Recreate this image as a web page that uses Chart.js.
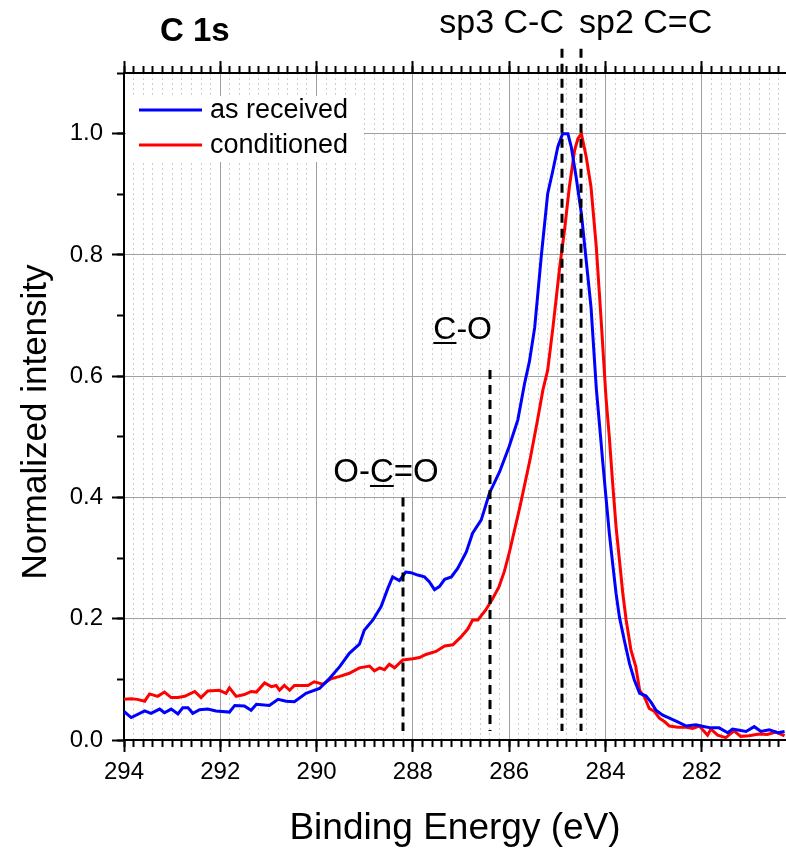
<!DOCTYPE html>
<html>
<head>
<meta charset="utf-8">
<title>C 1s</title>
<script src="https://cdn.jsdelivr.net/npm/chart.js@4.4.1/dist/chart.umd.min.js"></script>
<style>
  body { margin: 0; background: #fff; }
  #wrap { width: 786px; height: 849px; }
</style>
</head>
<body>
<div id="wrap"><canvas id="xpsChart"></canvas></div>
<script>
// binding energy (eV) / normalized intensity
const energyReceived = [294.0, 293.85, 293.57, 293.44, 293.26, 293.16, 293.02, 292.88, 292.78, 292.67,
  292.57, 292.43, 292.26, 292.09, 291.81, 291.70, 291.50, 291.36, 291.25, 290.98,
  290.80, 290.63, 290.46, 290.22, 289.94, 289.75, 289.52, 289.32, 289.11, 289.01,
  288.83, 288.66, 288.52, 288.42, 288.28, 288.15, 288.04, 287.90, 287.76, 287.66,
  287.55, 287.45, 287.34, 287.20, 287.07, 286.89, 286.76, 286.58, 286.41, 286.20,
  286.00, 285.82, 285.68, 285.58, 285.47, 285.33, 285.20, 285.09, 284.99, 284.89,
  284.78, 284.71, 284.61, 284.50, 284.40, 284.30, 284.19, 284.12, 284.06, 283.99,
  283.92, 283.85, 283.78, 283.71, 283.61, 283.50, 283.40, 283.29, 283.16, 283.05,
  282.95, 282.81, 282.67, 282.50, 282.32, 282.12, 281.94, 281.81, 281.64, 281.46,
  281.36, 281.22, 281.08, 280.91, 280.77, 280.60, 280.42, 280.28];
const asReceived = [0.047, 0.037, 0.048, 0.044, 0.051, 0.045, 0.051, 0.043, 0.053, 0.053,
  0.044, 0.050, 0.051, 0.048, 0.046, 0.057, 0.056, 0.049, 0.059, 0.057,
  0.067, 0.064, 0.063, 0.077, 0.085, 0.100, 0.121, 0.143, 0.158, 0.181,
  0.198, 0.220, 0.250, 0.269, 0.263, 0.277, 0.276, 0.272, 0.269, 0.261,
  0.248, 0.253, 0.265, 0.269, 0.283, 0.310, 0.341, 0.363, 0.407, 0.442,
  0.484, 0.528, 0.588, 0.624, 0.680, 0.800, 0.901, 0.940, 0.978, 1.000,
  1.000, 0.978, 0.929, 0.868, 0.791, 0.714, 0.580, 0.517, 0.462, 0.401,
  0.341, 0.291, 0.242, 0.203, 0.165, 0.126, 0.099, 0.077, 0.073, 0.062,
  0.049, 0.041, 0.036, 0.030, 0.023, 0.025, 0.022, 0.020, 0.020, 0.012,
  0.018, 0.016, 0.014, 0.022, 0.014, 0.017, 0.012, 0.014];

const energyConditioned = [294.0, 293.85, 293.72, 293.57, 293.47, 293.30, 293.16, 293.02, 292.88, 292.74,
  292.53, 292.40, 292.26, 292.02, 291.88, 291.81, 291.67, 291.50, 291.36, 291.25,
  291.08, 290.94, 290.84, 290.77, 290.67, 290.56, 290.46, 290.18, 290.05, 289.87,
  289.70, 289.52, 289.32, 289.11, 288.90, 288.80, 288.69, 288.59, 288.49, 288.38,
  288.21, 288.00, 287.86, 287.73, 287.52, 287.34, 287.17, 287.00, 286.86, 286.76,
  286.65, 286.49, 286.35, 286.21, 286.10, 286.00, 285.77, 285.56, 285.41, 285.30,
  285.20, 285.09, 284.95, 284.85, 284.75, 284.64, 284.57, 284.50, 284.40, 284.30,
  284.19, 284.09, 283.99, 283.92, 283.85, 283.78, 283.71, 283.64, 283.57, 283.47,
  283.37, 283.29, 283.19, 283.09, 282.98, 282.88, 282.77, 282.67, 282.50, 282.32,
  282.19, 282.05, 281.88, 281.81, 281.67, 281.50, 281.33, 281.19, 281.02, 280.81,
  280.64, 280.46, 280.28];
const conditioned = [0.067, 0.068, 0.067, 0.064, 0.076, 0.072, 0.079, 0.070, 0.070, 0.072,
  0.080, 0.070, 0.081, 0.082, 0.077, 0.086, 0.072, 0.075, 0.080, 0.079,
  0.094, 0.088, 0.090, 0.082, 0.090, 0.082, 0.090, 0.090, 0.096, 0.092,
  0.101, 0.105, 0.110, 0.119, 0.122, 0.114, 0.119, 0.116, 0.125, 0.119,
  0.132, 0.134, 0.136, 0.141, 0.146, 0.155, 0.157, 0.170, 0.183, 0.198,
  0.198, 0.214, 0.232, 0.253, 0.278, 0.308, 0.387, 0.465, 0.528, 0.577,
  0.610, 0.681, 0.780, 0.841, 0.912, 0.973, 0.992, 1.000, 0.962, 0.912,
  0.813, 0.693, 0.566, 0.500, 0.423, 0.352, 0.297, 0.242, 0.198, 0.148,
  0.121, 0.082, 0.071, 0.052, 0.047, 0.036, 0.030, 0.023, 0.021, 0.021,
  0.019, 0.023, 0.008, 0.018, 0.008, 0.004, 0.015, 0.006, 0.007, 0.010,
  0.009, 0.013, 0.007];

// component markers: name, energy, how high the dashed line goes, underlined char
const peakNames = ['O-C=O', 'C-O', 'sp3 C-C', 'sp2 C=C'];
const peakEnergy = [288.2, 286.4, 284.9, 284.5];
const peakTop = [0.4, 0.61, 1.14, 1.14];
const peakUnderline = [2, 0, -1, -1];

const xTicks = [294, 292, 290, 288, 286, 284, 282];
const yTicks = [0, 0.2, 0.4, 0.6, 0.8, 1.0];
const xMin = 280.25, xMax = 294, yMin = 0, yMax = 1.1;

const FONT = '"Liberation Sans", Arial, sans-serif';

function toPoints(xs, ys) {
  return xs.map((e, i) => ({ x: e, y: ys[i] }));
}

function isMajor(v, step) {
  const r = v / step;
  return Math.abs(r - Math.round(r)) < 1e-6;
}

// text with one underlined character
function drawLabel(ctx, text, ul, x, y, align, size) {
  ctx.font = size + 'px ' + FONT;
  const w = ctx.measureText(text).width;
  let left = x;
  if (align === 'right') left = x - w;
  if (align === 'center') left = x - w / 2;
  ctx.textAlign = 'left';
  ctx.textBaseline = 'alphabetic';
  ctx.fillText(text, left, y);
  if (ul >= 0) {
    const ux = left + ctx.measureText(text.slice(0, ul)).width;
    const uw = ctx.measureText(text[ul]).width;
    ctx.fillRect(ux, y + 3, uw, 2);
  }
}

const legendBox = {
  id: 'legendBox',
  beforeDatasetsDraw(chart) {
    const { ctx, chartArea } = chart;
    ctx.save();
    ctx.fillStyle = '#fff';
    ctx.fillRect(chartArea.left + 2, 96, 238, 66);
    ctx.font = '27px ' + FONT;
    ctx.textBaseline = 'middle';
    ctx.textAlign = 'left';
    chart.data.datasets.forEach((ds, i) => {
      const y = 110 + i * 35;
      ctx.strokeStyle = ds.borderColor;
      ctx.lineWidth = 3;
      ctx.beginPath();
      ctx.moveTo(139, y);
      ctx.lineTo(202, y);
      ctx.stroke();
      ctx.fillStyle = '#000';
      ctx.fillText(ds.label, 210, y + 1);
    });
    ctx.restore();
  }
};

const peakMarkers = {
  id: 'peakMarkers',
  afterDatasetsDraw(chart) {
    const { ctx, scales: { x, y } } = chart;
    ctx.save();
    ctx.strokeStyle = '#000';
    ctx.lineWidth = 3;
    ctx.setLineDash([9, 6]);
    const px = peakEnergy.map(e => Math.round(x.getPixelForValue(e)));
    px.forEach((p, i) => {
      ctx.beginPath();
      ctx.moveTo(p, y.getPixelForValue(peakTop[i]));
      ctx.lineTo(p, y.getPixelForValue(0.015));
      ctx.stroke();
    });
    ctx.setLineDash([]);
    ctx.fillStyle = '#000';
    drawLabel(ctx, peakNames[0], peakUnderline[0], px[0] - 17, 482, 'center', 33);
    drawLabel(ctx, peakNames[1], peakUnderline[1], px[1] + 2, 339, 'right', 32);
    drawLabel(ctx, peakNames[2], peakUnderline[2], px[2] + 2, 33, 'right', 34);
    drawLabel(ctx, peakNames[3], peakUnderline[3], px[3] - 2, 33, 'left', 34);

    // panel title
    ctx.font = 'bold 33px ' + FONT;
    ctx.textAlign = 'left';
    ctx.fillText('C 1s', 160, 41);

    // y axis title
    ctx.translate(36, 422);
    ctx.rotate(-Math.PI / 2);
    ctx.font = '35px ' + FONT;
    ctx.textAlign = 'center';
    ctx.textBaseline = 'middle';
    ctx.fillText('Normalized intensity', 0, 0);
    ctx.restore();
  }
};

const zeroSize = s => { s.width = s.isHorizontal() ? s.width : 0; s.height = s.isHorizontal() ? 0 : s.height;
  s.paddingLeft = 0; s.paddingRight = 0; s.paddingTop = 0; s.paddingBottom = 0; };
const setMajorX = s => { s.ticks = xTicks.map(v => ({ value: v })); };
const setMajorY = s => { s.ticks = yTicks.map(v => ({ value: v })); };

new Chart(document.getElementById('xpsChart'), {
  type: 'line',
  data: {
    datasets: [
      {
        label: 'as received',
        data: toPoints(energyReceived, asReceived),
        borderColor: '#0000ff',
        backgroundColor: '#0000ff',
        borderWidth: 3,
        pointRadius: 0,
        tension: 0,
        xAxisID: 'x',
        yAxisID: 'y'
      },
      {
        label: 'conditioned',
        data: toPoints(energyConditioned, conditioned),
        borderColor: '#ff0000',
        backgroundColor: '#ff0000',
        borderWidth: 3,
        pointRadius: 0,
        tension: 0,
        xAxisID: 'x',
        yAxisID: 'y'
      }
    ]
  },
  options: {
    responsive: true,
    maintainAspectRatio: false,
    animation: false,
    layout: { padding: { top: 73, left: 0, right: 0, bottom: 0 } },
    plugins: {
      legend: { display: false },
      tooltip: { enabled: false }
    },
    scales: {
      x: {
        type: 'linear',
        position: 'bottom',
        weight: 1,
        min: xMin,
        max: xMax,
        reverse: true,
        afterBuildTicks: setMajorX,
        afterFit: s => { s.height = 109; s.paddingLeft = 0; s.paddingRight = 0; },
        ticks: {
          autoSkip: false,
          maxRotation: 0,
          padding: 6,
          color: '#000',
          font: { family: FONT, size: 24 },
          callback: v => String(v)
        },
        grid: { color: '#a0a0a0', lineWidth: 1, tickLength: 12, tickWidth: 2, tickColor: '#000' },
        border: { display: true, color: '#000', width: 2 },
        title: {
          display: true,
          text: 'Binding Energy (eV)',
          color: '#000',
          font: { family: FONT, size: 37 },
          padding: { top: 0, bottom: -2 }
        }
      },
      xMinor: {
        type: 'linear',
        position: 'bottom',
        weight: 0,
        min: xMin,
        max: xMax,
        reverse: true,
        afterFit: zeroSize,
        ticks: { display: false, stepSize: 0.2, includeBounds: false },
        grid: {
          color: c => isMajor(c.tick.value, 2) ? 'transparent' : '#cfcfcf',
          lineWidth: 1,
          tickLength: 7,
          tickWidth: 2,
          tickColor: '#000'
        },
        border: { display: false, dash: [2, 3] }
      },
      xTop: {
        type: 'linear',
        position: 'top',
        weight: 1,
        min: xMin,
        max: xMax,
        reverse: true,
        afterBuildTicks: setMajorX,
        afterFit: zeroSize,
        ticks: { display: false },
        grid: { drawOnChartArea: false, tickLength: 12, tickWidth: 2, tickColor: '#000' },
        border: { display: true, color: '#000', width: 2 }
      },
      xTopMinor: {
        type: 'linear',
        position: 'top',
        weight: 0,
        min: xMin,
        max: xMax,
        reverse: true,
        afterFit: zeroSize,
        ticks: { display: false, stepSize: 0.2, includeBounds: false },
        grid: { drawOnChartArea: false, tickLength: 7, tickWidth: 2, tickColor: '#000' },
        border: { display: false }
      },
      y: {
        type: 'linear',
        position: 'left',
        weight: 1,
        min: yMin,
        max: yMax,
        afterBuildTicks: setMajorY,
        afterFit: s => { s.width = 124; s.paddingTop = 0; s.paddingBottom = 0; },
        ticks: {
          padding: 9,
          color: '#000',
          font: { family: FONT, size: 24 },
          callback: v => v.toFixed(1)
        },
        grid: { color: '#a0a0a0', lineWidth: 1, tickLength: 12, tickWidth: 2, tickColor: '#000' },
        border: { display: true, color: '#000', width: 2 }
      },
      yMinor: {
        type: 'linear',
        position: 'left',
        weight: 0,
        min: yMin,
        max: yMax,
        afterFit: zeroSize,
        ticks: { display: false, stepSize: 0.1, includeBounds: false },
        grid: { drawOnChartArea: false, tickLength: 7, tickWidth: 2, tickColor: '#000' },
        border: { display: false }
      }
    }
  },
  plugins: [legendBox, peakMarkers]
});
</script>
</body>
</html>
